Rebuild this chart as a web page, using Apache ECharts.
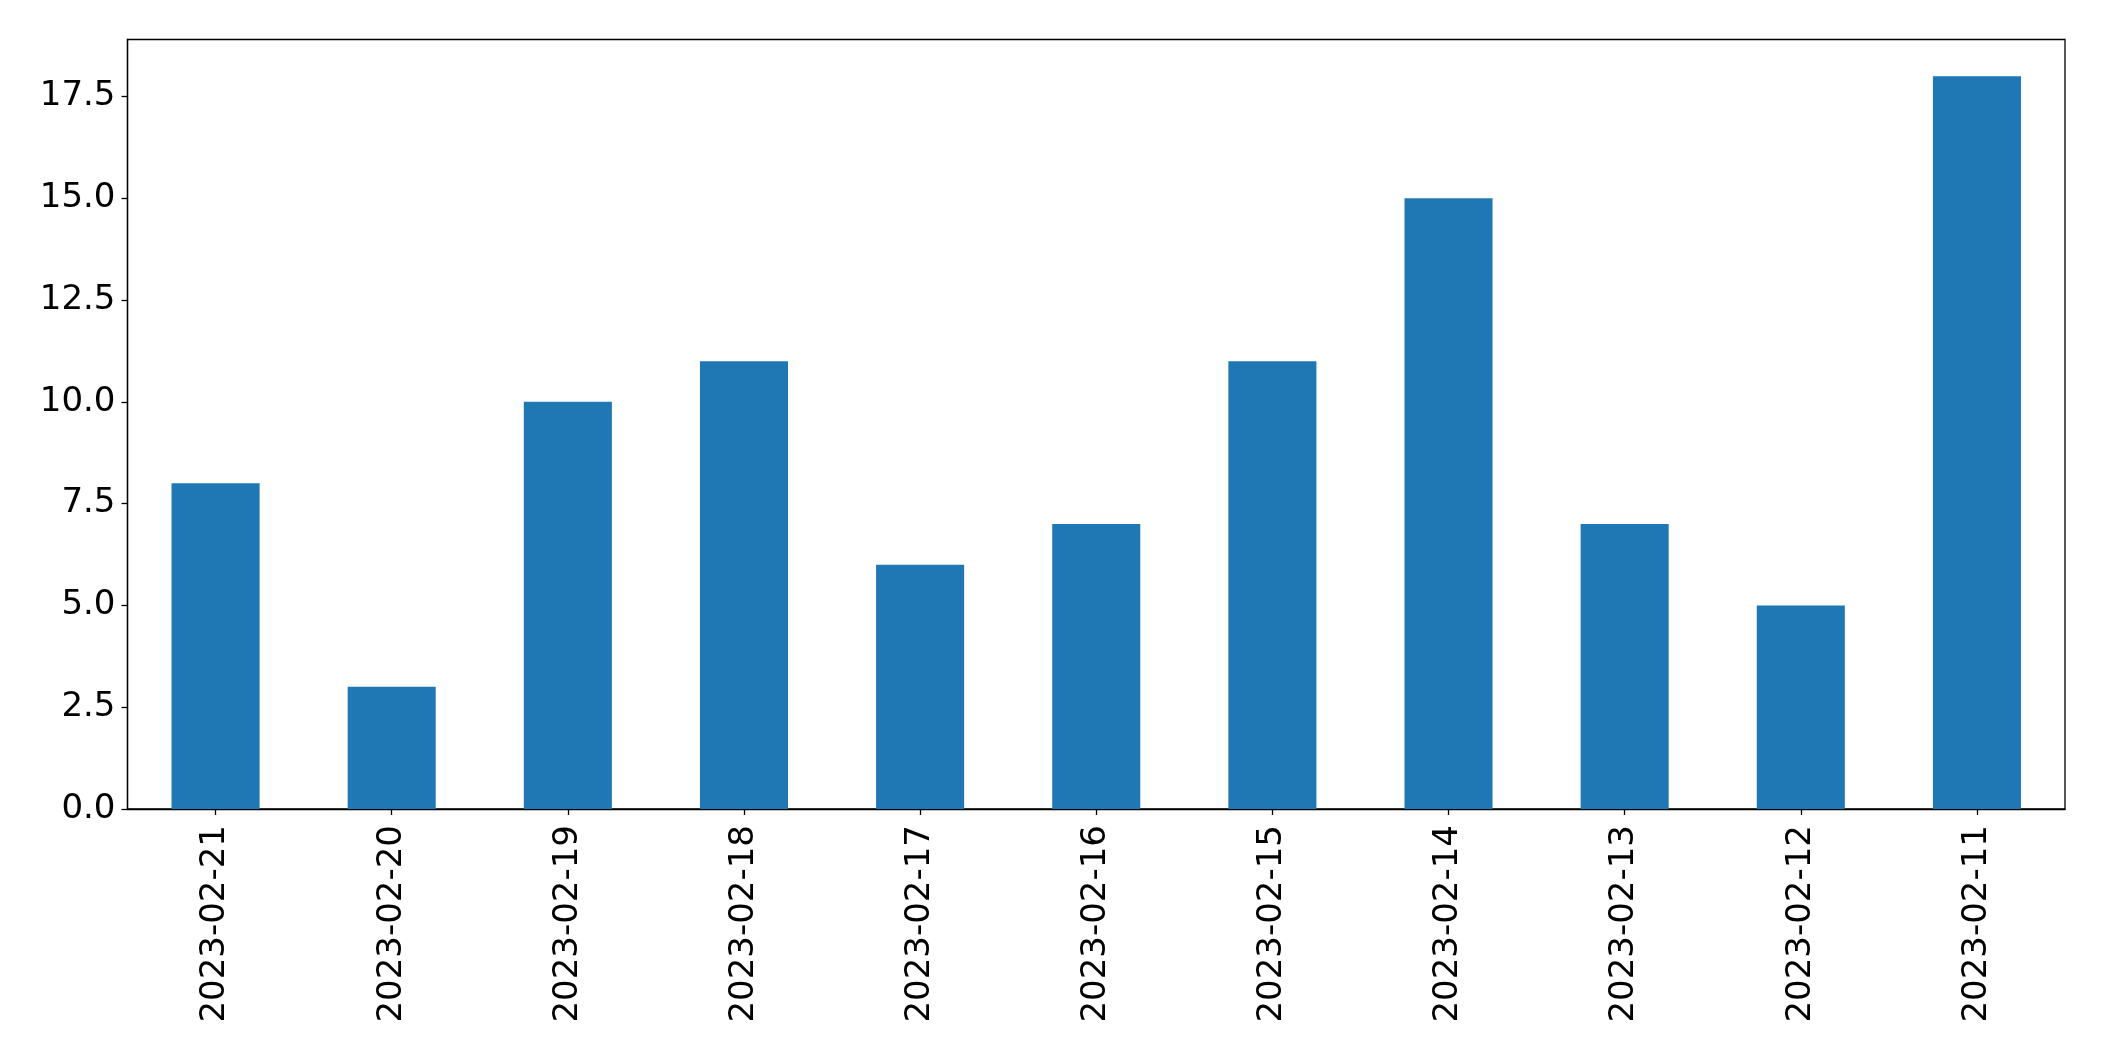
<!DOCTYPE html>
<html>
<head>
<meta charset="utf-8">
<script src="https://cdn.jsdelivr.net/npm/echarts@6/dist/echarts.min.js"></script>
<style>html,body{margin:0;padding:0;background:#fff}#c{width:2104px;height:1061px}</style>
</head>
<body>
<div id="c"></div>
<script>
const categories = ['2023-02-21','2023-02-20','2023-02-19','2023-02-18','2023-02-17','2023-02-16','2023-02-15','2023-02-14','2023-02-13','2023-02-12','2023-02-11'];
const values = [8, 3, 10, 11, 6, 7, 11, 15, 7, 5, 18];
const yTicks = [0, 2.5, 5, 7.5, 10, 12.5, 15, 17.5];

const chart = echarts.init(document.getElementById('c'), null, {renderer: 'canvas'});
const font = 'DejaVu Sans';
chart.setOption({
  animation: false,
  backgroundColor: '#fff',
  grid: {left: 127.5, right: 39, top: 39.5, bottom: 252, show: true, borderColor: '#000', borderWidth: 1.3, backgroundColor: 'transparent'},
  xAxis: {
    type: 'category',
    data: categories,
    boundaryGap: true,
    axisLine: {show: true, lineStyle: {color: '#000', width: 1.3}},
    axisTick: {show: true, alignWithLabel: true, length: 6, lineStyle: {color: '#000', width: 1.3}},
    axisLabel: {rotate: 90, margin: 16, fontFamily: font, fontSize: 34, color: '#000', interval: 0}
  },
  yAxis: {
    type: 'value',
    min: 0,
    max: 18.9,
    splitLine: {show: false},
    axisLine: {show: true, lineStyle: {color: '#000', width: 1.3}},
    axisTick: {show: true, length: 6, lineStyle: {color: '#000', width: 1.3}, customValues: yTicks},
    axisLabel: {margin: 12, fontFamily: font, fontSize: 34, color: '#000', customValues: yTicks, formatter: v => v.toFixed(1)}
  },
  series: [{
    type: 'bar',
    data: values,
    barWidth: '50%',
    itemStyle: {color: '#1f77b4'}
  }]
});
</script>
</body>
</html>
